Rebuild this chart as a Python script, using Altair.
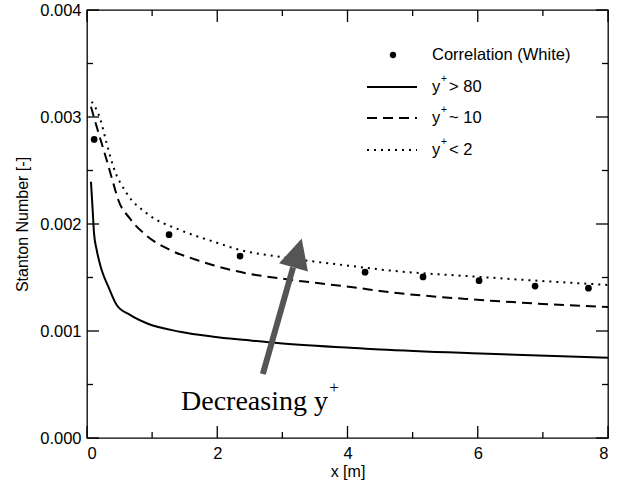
import altair as alt
import pandas as pd

# ---------------- data ----------------
solid_x = [0.061, 0.087, 0.108, 0.149, 0.225, 0.328, 0.456, 0.66, 0.917, 1.428, 1.94, 2.45, 2.96, 4.19, 4.5, 6.04, 8.0]
solid_y = [0.002395, 0.00213, 0.001913, 0.001757, 0.00157, 0.001414, 0.001243, 0.00115, 0.001072, 0.000993,
           0.000947, 0.000915, 0.000885, 0.000838, 0.000828, 0.00079, 0.00075]

dash_x = [0.061, 0.149, 0.225, 0.302, 0.404, 0.481, 0.66, 0.917, 1.275, 1.685, 1.94, 2.45, 2.96, 4.19, 4.5, 6.04, 8.0]
dash_y = [0.003096, 0.002909, 0.002754, 0.002598, 0.00238, 0.002224, 0.00205, 0.00189, 0.001757, 0.001664,
          0.001615, 0.001539, 0.001492, 0.0014, 0.001374, 0.00129, 0.001224]

dot_x = [0.072, 0.2, 0.302, 0.404, 0.61, 0.917, 1.428, 1.94, 2.35, 2.96, 4.19, 4.5, 6.04, 8.0]
dot_y = [0.003143, 0.002988, 0.002754, 0.002536, 0.002287, 0.0021, 0.001944, 0.001836, 0.001757, 0.001694,
         0.001598, 0.001575, 0.001505, 0.00143]

corr_x = [0.11, 1.26, 2.35, 4.27, 5.16, 6.02, 6.88, 7.7]
corr_y = [0.00279, 0.0019, 0.0017, 0.00155, 0.001505, 0.00147, 0.00142, 0.0014]

x_major = [0, 2, 4, 6, 8]
x_minor = [1, 3, 5, 7]
y_major = [0.0, 0.001, 0.002, 0.003, 0.004]
y_minor = [0.0005, 0.0015, 0.0025, 0.0035]

# arrow annotation (data coordinates)
arrow_tail = (2.70, 0.000598)
arrow_base = (3.164, 0.001593)
arrow_head = (3.234, 0.001729)

legend_labels = ["Correlation (White)", "> 80", "~ 10", "< 2"]
annotation_text = "Decreasing y"

W, H = 521, 428
FONT = "Liberation Sans"
X_DOM = [0, 8]
Y_DOM = [0, 0.004]

xs = alt.Scale(domain=X_DOM, nice=False, zero=False)
ys = alt.Scale(domain=Y_DOM, nice=False, zero=False)
xaxis = alt.Axis(title="x [m]", values=x_major, tickSize=0, domain=False, grid=False,
                 labelPadding=7, labelFontSize=16.5, titleFontSize=16, titleFontWeight="normal",
                 titleX=W / 2, titleY=33, titleBaseline="middle", titleAlign="center")
yaxis = alt.Axis(title="Stanton Number [-]", values=y_major, format=".3f", tickSize=0, domain=False,
                 grid=False, labelPadding=6, labelFontSize=16.5, titleFontSize=16,
                 titleFontWeight="normal", titleAngle=-90, titleX=-65, titleY=H / 2,
                 titleBaseline="middle", titleAlign="center")


def X(f):
    return alt.X(f, type="quantitative", scale=xs, axis=xaxis)


def Y(f):
    return alt.Y(f, type="quantitative", scale=ys, axis=yaxis)


solid = alt.Chart(pd.DataFrame({"x": solid_x, "y": solid_y})).mark_line(
    color="black", strokeWidth=2, interpolate="monotone").encode(x=X("x"), y=Y("y"))
dashed = alt.Chart(pd.DataFrame({"x": dash_x, "y": dash_y})).mark_line(
    color="black", strokeWidth=2, strokeDash=[10, 6], interpolate="monotone").encode(x=X("x"), y=Y("y"))
dotted = alt.Chart(pd.DataFrame({"x": dot_x, "y": dot_y})).mark_line(
    color="black", strokeWidth=2, strokeDash=[2, 5], interpolate="monotone").encode(x=X("x"), y=Y("y"))
corr = alt.Chart(pd.DataFrame({"x": corr_x, "y": corr_y})).mark_point(
    shape="circle", filled=True, color="black", size=45, opacity=1).encode(x=X("x"), y=Y("y"))

# inward ticks on all four sides, as short segments in data space
px_x = (X_DOM[1] - X_DOM[0]) / W
px_y = (Y_DOM[1] - Y_DOM[0]) / H
tick_rows = []
k = 0
for vals, L in ((x_major, 12), (x_minor, 6)):
    for v in vals:
        tick_rows.append({"id": k, "x": v, "x2": v, "y": Y_DOM[0], "y2": Y_DOM[0] + L * px_y}); k += 1
        tick_rows.append({"id": k, "x": v, "x2": v, "y": Y_DOM[1], "y2": Y_DOM[1] - L * px_y}); k += 1
for vals, L in ((y_major, 12), (y_minor, 6)):
    for v in vals:
        tick_rows.append({"id": k, "x": X_DOM[0], "x2": X_DOM[0] + L * px_x, "y": v, "y2": v}); k += 1
        tick_rows.append({"id": k, "x": X_DOM[1], "x2": X_DOM[1] - L * px_x, "y": v, "y2": v}); k += 1
tick_df = pd.DataFrame(tick_rows)
tick_long = pd.concat([
    tick_df[["id", "x", "y"]],
    tick_df[["id", "x2", "y2"]].rename(columns={"x2": "x", "y2": "y"}),
], ignore_index=True)
ticks = alt.Chart(tick_long).mark_line(color="black", strokeWidth=1.3).encode(
    x=X("x"), y=Y("y"), detail="id:N")

# arrow
arrow_df = pd.DataFrame({"x": [arrow_tail[0]], "y": [arrow_tail[1]],
                         "x2": [arrow_base[0]], "y2": [arrow_base[1]]})
shaft = alt.Chart(arrow_df).mark_rule(color="#555555", strokeWidth=6).encode(
    x=X("x"), y=Y("y"), x2="x2", y2="y2")
head = alt.Chart(pd.DataFrame({"x": [arrow_head[0]], "y": [arrow_head[1]]})).mark_point(
    shape="M0,-1L1,1L-1,1Z", size=900, angle=16, filled=True, color="#555555", opacity=1,
    strokeWidth=0).encode(x=X("x"), y=Y("y"))

ann = alt.Chart(pd.DataFrame({"t": [annotation_text]})).mark_text(
    font="Liberation Serif", fontSize=28, align="left", baseline="alphabetic", color="black").encode(
    text="t:N", x=alt.value(94), y=alt.value(400))
ann_sup = alt.Chart(pd.DataFrame({"t": ["+"]})).mark_text(
    font="Liberation Serif", fontSize=17, align="center", baseline="middle", color="black").encode(
    text="t:N", x=alt.value(247), y=alt.value(378))

# legend (drawn by hand)
rows = [45, 77, 108, 140]
leg = []
leg.append(alt.Chart(pd.DataFrame({"t": [legend_labels[0]]})).mark_text(
    font=FONT, fontSize=16.5, align="left", baseline="middle", color="black").encode(
    text="t:N", x=alt.value(345), y=alt.value(rows[0])))
leg.append(alt.Chart(pd.DataFrame({"a": [0]})).mark_point(
    shape="circle", filled=True, color="black", size=40, opacity=1).encode(
    x=alt.value(306), y=alt.value(rows[0])))
for i, dash in zip([1, 2, 3], [None, [10, 6], [2, 5]]):
    kw = dict(color="black", strokeWidth=2)
    if dash:
        kw["strokeDash"] = dash
    leg.append(alt.Chart(pd.DataFrame({"a": [0]})).mark_rule(**kw).encode(
        x=alt.value(280), x2=alt.value(330), y=alt.value(rows[i])))
    leg.append(alt.Chart(pd.DataFrame({"t": ["y"]})).mark_text(
        font=FONT, fontSize=16.5, align="left", baseline="middle", color="black").encode(
        text="t:N", x=alt.value(345), y=alt.value(rows[i])))
    leg.append(alt.Chart(pd.DataFrame({"t": ["+"]})).mark_text(
        font=FONT, fontSize=10, align="center", baseline="middle", color="black").encode(
        text="t:N", x=alt.value(357), y=alt.value(rows[i] - 8)))
    leg.append(alt.Chart(pd.DataFrame({"t": [legend_labels[i]]})).mark_text(
        font=FONT, fontSize=16.5, align="left", baseline="middle", color="black").encode(
        text="t:N", x=alt.value(362), y=alt.value(rows[i])))

chart = alt.layer(solid, dashed, dotted, corr, shaft, head, ann, ann_sup, *leg, ticks).properties(
    width=W, height=H,
    autosize=alt.AutoSizeParams(type="none"),
    padding={"left": 87, "top": 10, "right": 20, "bottom": 46},
    background="white",
).configure_view(stroke="black", strokeWidth=1.3).configure_axis(
    labelFont=FONT, titleFont=FONT, labelColor="black", titleColor="black"
)

chart.save("out.html", embed_options={"renderer": "svg", "actions": False})
